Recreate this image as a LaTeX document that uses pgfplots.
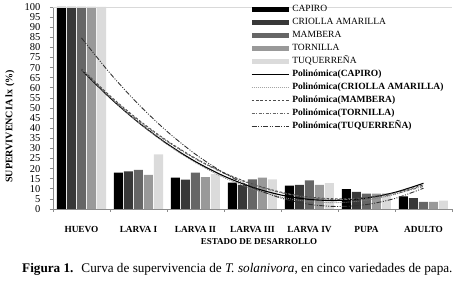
\documentclass[border=0pt]{standalone}
\usepackage{fontspec}
\setmainfont{Liberation Serif}
\usepackage{pgfplots}
\pgfplotsset{compat=1.18}
\definecolor{cCap}{gray}{0}
\definecolor{cCri}{gray}{0.22}
\definecolor{cMam}{gray}{0.40}
\definecolor{cTor}{gray}{0.60}
\definecolor{cTuq}{gray}{0.86}
\definecolor{axgray}{gray}{0.55}
\definecolor{bordergray}{gray}{0.85}
\begin{document}
\begin{tikzpicture}
\useasboundingbox (0bp,0bp) rectangle (458bp,281bp);
\begin{axis}[
  at={(53bp,72bp)}, anchor=south west,
  scale only axis, width=399bp, height=202bp,
  xmin=-0.5, xmax=6.5, ymin=0, ymax=100,
  axis x line*=bottom, axis y line*=left,
  axis line style={color=axgray, line width=0.6bp},
  tick align=outside,
  ytick={0,5,...,100},
  major tick length=3bp, minor tick length=3bp,
  y tick style={color=axgray, line width=0.6bp},
  xtick={0,...,6},
  xticklabels={HUEVO,LARVA I,LARVA II,LARVA III,LARVA IV,PUPA,ADULTO},
  major x tick style={draw=none},
  minor xtick={-0.5,0.5,...,6.5},
  minor x tick style={color=axgray, line width=0.6bp},
  xticklabel style={font=\bfseries\fontsize{9.3bp}{11bp}\selectfont, anchor=base, yshift=-20bp},
  yticklabel style={font=\fontsize{10.5bp}{12bp}\selectfont, anchor=east, xshift=-6bp},
  /pgf/number format/assume math mode=true,
  legend cell align=left,
  legend style={draw=none, fill=none, at={(axis description cs:0.4962,1.0173)}, anchor=north west,
    inner sep=0pt, row sep=2bp, column sep=2bp,
    nodes={inner sep=1bp, text height=7bp, text depth=2bp, font=\fontsize{9.5bp}{11bp}\selectfont}},
]
\addplot[ybar, bar width=9bp, bar shift=-20bp, fill=cCap, draw=none,
  legend image code/.code={\fill[cCap] (0bp,-2.5bp) rectangle (37bp,2.5bp);}]
  coordinates {(0,100) (1,18.0) (2,15.5) (3,13.0) (4,11.6) (5,9.9) (6,6.2)};
\addlegendentry{CAPIRO}
\addplot[ybar, bar width=9bp, bar shift=-10bp, fill=cCri, draw=none,
  legend image code/.code={\fill[cCri] (0bp,-2.5bp) rectangle (37bp,2.5bp);}]
  coordinates {(0,100) (1,18.6) (2,14.5) (3,12.0) (4,12.0) (5,8.5) (6,5.4)};
\addlegendentry{CRIOLLA AMARILLA}
\addplot[ybar, bar width=9bp, bar shift=0bp, fill=cMam, draw=none,
  legend image code/.code={\fill[cMam] (0bp,-2.5bp) rectangle (37bp,2.5bp);}]
  coordinates {(0,100) (1,19.4) (2,18.0) (3,14.7) (4,14.2) (5,7.6) (6,3.5)};
\addlegendentry{MAMBERA}
\addplot[ybar, bar width=9bp, bar shift=10bp, fill=cTor, draw=none,
  legend image code/.code={\fill[cTor] (0bp,-2.5bp) rectangle (37bp,2.5bp);}]
  coordinates {(0,100) (1,16.9) (2,15.8) (3,15.5) (4,12.0) (5,7.6) (6,3.5)};
\addlegendentry{TORNILLA}
\addplot[ybar, bar width=9bp, bar shift=20bp, fill=cTuq, draw=none,
  legend image code/.code={\fill[cTuq] (0bp,-2.5bp) rectangle (37bp,2.5bp);}]
  coordinates {(0,100) (1,27.0) (2,17.3) (3,14.7) (4,12.8) (5,7.9) (6,4.2)};
\addlegendentry{TUQUERREÑA}
% trend lines
\addplot[smooth, black, line width=1.1bp,
  legend image code/.code={\draw[black, line width=1.1bp] (0bp,0bp) -- (37bp,0bp);}]
  coordinates {(0,68.9) (0.5,55.04) (1,42.84) (1.5,32.32) (2,23.46) (2.5,16.28) (3,10.76) (3.5,6.92) (4,4.74) (4.5,4.24) (5,5.40) (5.5,8.24) (6,12.74)};
\addlegendentry{\textbf{Polinómica(CAPIRO)}}
\addplot[smooth, gray, line width=0.8bp, dash pattern=on 1bp off 1bp,
  legend image code/.code={\draw[gray!70, line width=0.6bp] (0bp,0bp) -- (37bp,0bp);}]
  coordinates {(0,69.6) (0.5,55.36) (1,42.83) (1.5,32.02) (2,22.92) (2.5,15.54) (3,9.87) (3.5,5.92) (4,3.68) (4.5,3.16) (5,4.35) (5.5,7.26) (6,11.88)};
\addlegendentry{\textbf{Polinómica(CRIOLLA AMARILLA)}}
\addplot[smooth, black!70, line width=0.9bp, dash pattern=on 2.5bp off 1.8bp,
  legend image code/.code={\draw[black!70, line width=0.9bp, dash pattern=on 2.5bp off 1.8bp] (0bp,0bp) -- (37bp,0bp);}]
  coordinates {(0,69.5) (0.5,56.04) (1,44.15) (1.5,33.84) (2,25.10) (2.5,17.94) (3,12.35) (3.5,8.34) (4,5.90) (4.5,5.04) (5,5.75) (5.5,8.04) (6,11.90)};
\addlegendentry{\textbf{Polinómica(MAMBERA)}}
\addplot[smooth, black!60, line width=0.9bp, dash pattern=on 3bp off 1.5bp on 1bp off 1.5bp,
  legend image code/.code={\draw[black!60, line width=0.9bp, dash pattern=on 3bp off 1.5bp on 1bp off 1.5bp] (0bp,0bp) -- (37bp,0bp);}]
  coordinates {(0,68.8) (0.5,55.48) (1,43.70) (1.5,33.48) (2,24.80) (2.5,17.68) (3,12.10) (3.5,8.08) (4,5.60) (4.5,4.68) (5,5.30) (5.5,7.48) (6,11.20)};
\addlegendentry{\textbf{Polinómica(TORNILLA)}}
\addplot[smooth, black!80, line width=0.9bp, dash pattern=on 5bp off 1.5bp on 1bp off 1.5bp on 1bp off 1.5bp,
  legend image code/.code={\draw[black!80, line width=0.9bp, dash pattern=on 5bp off 1.5bp on 1bp off 1.5bp on 1bp off 1.5bp] (0bp,0bp) -- (37bp,0bp);}]
  coordinates {(0,84.7) (0.5,67.23) (1,51.80) (1.5,38.43) (2,27.10) (2.5,17.83) (3,10.60) (3.5,5.43) (4,2.30) (4.5,1.23) (5,2.20) (5.5,5.23) (6,10.30)};
\addlegendentry{\textbf{Polinómica(TUQUERREÑA)}}
\draw[bordergray, line width=0.6bp] (rel axis cs:0,1) -- (rel axis cs:1,1) -- (rel axis cs:1,0);
\end{axis}
\node[rotate=90, font=\bfseries\fontsize{10bp}{12bp}\selectfont] at (10bp,154.5bp) {SUPERVIVENCIA lx (\%)};
\node[font=\bfseries\fontsize{9bp}{11bp}\selectfont] at (259bp,39bp) {ESTADO DE DESARROLLO};
\node[anchor=base west, inner sep=0pt, font=\fontsize{13.2bp}{15bp}\selectfont] at (22bp,8.8bp)
  {\textbf{Figura 1.}\hspace{0.6em}Curva de supervivencia de \textit{T. solanivora}, en cinco variedades de papa.};
\end{tikzpicture}
\end{document}
